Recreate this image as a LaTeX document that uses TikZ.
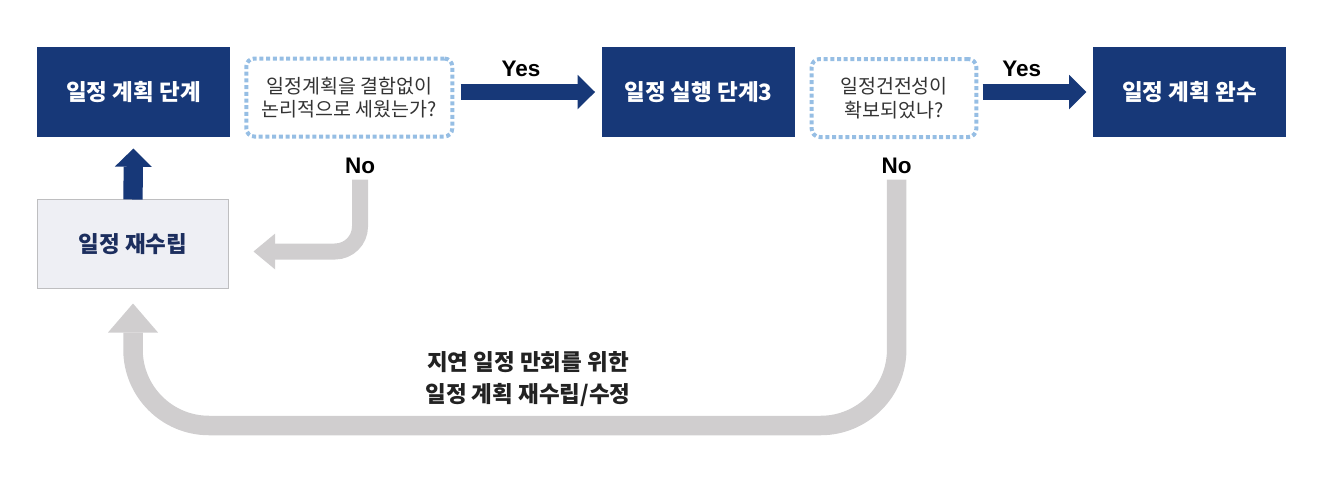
\documentclass[tikz,border=0pt]{standalone}
\usepackage{fontspec}
\setmainfont{Liberation Sans}
\newfontfamily\kr{Noto Sans CJK KR}
\usetikzlibrary{arrows.meta,calc}

\definecolor{navy}{RGB}{23,56,120}
\definecolor{navytext}{RGB}{28,46,94}
\definecolor{lightbox}{RGB}{238,239,244}
\definecolor{boxline}{RGB}{190,190,192}
\definecolor{dotblue}{RGB}{150,190,228}
\definecolor{loopgray}{RGB}{208,206,207}
\definecolor{qtext}{RGB}{51,51,51}

\tikzset{every picture/.style={line width=0.75pt}}
\tikzset{
  stagebox/.style={fill=navy, text=white, minimum width=193pt, minimum height=90pt,
    inner sep=0pt, outer sep=0pt, font=\kr\bfseries\fontsize{22.5}{26}\selectfont},
  redobox/.style={fill=lightbox, draw=boxline, line width=1.5pt, text=navytext,
    minimum width=191pt, minimum height=89pt, inner sep=0pt, outer sep=0pt,
    font=\kr\bfseries\fontsize{22.5}{26}\selectfont},
  askbox/.style={draw=dotblue, line width=4pt, dash pattern=on 4pt off 2.7pt,
    rounded corners=8pt, text=qtext, align=center, inner sep=0pt, outer sep=0pt,
    minimum height=78pt, font=\kr\fontsize{19.5}{23.5}\selectfont},
  yesno/.style={anchor=base, inner sep=0pt, font=\bfseries\fontsize{22.5}{26}\selectfont},
  yesarrow/.style={draw=navy, line width=16.6pt,
    -{Triangle[width=34.5pt,length=17.3pt,line width=0pt]}},
  uparrow/.style={draw=navy, line width=19.3pt,
    -{Triangle[width=37pt,length=18.3pt,line width=0pt]}},
  backarrow/.style={draw=loopgray, line width=16pt, rounded corners=25pt,
    -{Triangle[width=36pt,length=21.7pt,line width=0pt]}},
  looparrow/.style={draw=loopgray, line width=19.5pt, rounded corners=76pt,
    -{Triangle[width=50pt,length=29pt,line width=0pt]}}
}

\begin{document}
\begin{tikzpicture}[x=1pt,y=1pt,yscale=-1,xscale=1]
\useasboundingbox (0,0) rectangle (1317,483);

% Boxes
\node[stagebox] (plan) at (133.5,92) {일정 계획 단계};
\node[askbox, minimum width=206pt] (q1) at (349.3,97.5) {일정계획을 결함없이\\논리적으로 세웠는가?};
\node[stagebox] (exec) at (698.5,92) {일정 실행 단계3};
\node[askbox, minimum width=164.6pt] (q2) at (894,98) {일정건전성이\\확보되었나?};
\node[stagebox] (done) at (1189.5,92) {일정 계획 완수};
\node[redobox] (replan) at (133,244) {일정 재수립};

% Text Node
\node[yesno] (yes1) at (521,76.7) {Yes};
\node[yesno] (yes2) at (1021.7,76.7) {Yes};
\node[yesno] (no1) at (360,173) {No};
\node[yesno] (no2) at (896.7,173) {No};
\node[align=center, inner sep=0pt, text={rgb,255:red,34;green,34;blue,34},
  font=\kr\bfseries\fontsize{22.5}{32}\selectfont] (note) at (528,379)
  {지연 일정 만회를 위한\\일정 계획 재수립/수정};

%Straight Lines
\draw[yesarrow, shorten <=8.2pt, shorten >=7pt] (q1.east |- exec.west) -- (exec.west);
\draw[yesarrow, shorten <=6.4pt, shorten >=6.6pt] (q2.east |- done.west) -- (done.west);
\draw[uparrow, shorten >=11.5pt] (replan.north) -- (plan.south);

%Curve Lines
\draw[backarrow, shorten <=6pt, shorten >=25pt] (no1.south) |- ($(replan.east)+(0,7.5)$);
\draw[looparrow, shorten <=6pt, shorten >=15pt] (no2.south) |- ($(replan.south)+(0,137)$) -- (replan.south);

\end{tikzpicture}
\end{document}
